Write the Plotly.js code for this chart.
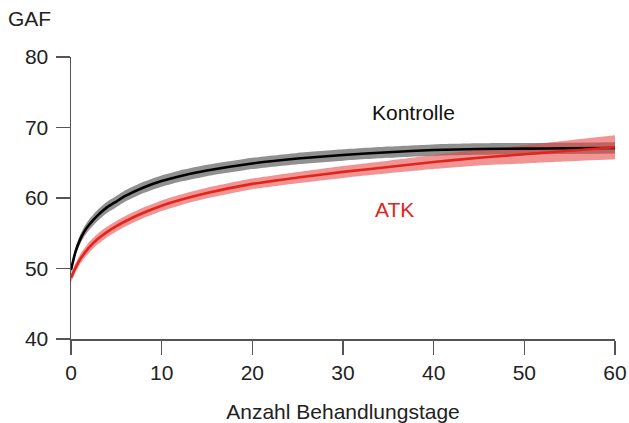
<!DOCTYPE html>
<html>
<head>
<meta charset="utf-8">
<script src="https://cdn.plot.ly/plotly-3.0.1.min.js"></script>
<style>html,body{margin:0;padding:0;background:#fff;}#chart{width:629px;height:423px;}</style>
</head>
<body>
<div id="chart"></div>
<script>
// Days of treatment
const days = [0, 0.5, 1, 1.5, 2, 3, 4, 5, 6, 8, 10, 12, 15, 20, 25, 30, 35, 40, 45, 50, 55, 60];
// Kontrolle (control) mean GAF and band half-width
const kontrolleMean = [49.8, 52.4, 54.1, 55.3, 56.2, 57.6, 58.7, 59.5, 60.3, 61.5, 62.4, 63.1, 63.9, 64.9, 65.6, 66.1, 66.5, 66.8, 66.95, 67.0, 67.05, 67.1];
const kontrolleBand = [0.45, 0.55, 0.65, 0.7, 0.75, 0.8, 0.8, 0.8, 0.8, 0.8, 0.8, 0.8, 0.8, 0.8, 0.8, 0.8, 0.8, 0.8, 0.8, 0.8, 0.8, 0.8];
// ATK mean GAF and band half-width
const atkMean = [48.7, 50.1, 51.3, 52.2, 53.0, 54.25, 55.2, 56.0, 56.7, 57.9, 58.9, 59.7, 60.7, 62.0, 62.9, 63.7, 64.4, 65.1, 65.7, 66.2, 66.7, 67.2];
const atkBand = [0.6, 0.65, 0.7, 0.7, 0.75, 0.75, 0.75, 0.75, 0.75, 0.75, 0.75, 0.75, 0.75, 0.75, 0.8, 0.85, 0.9, 1.0, 1.1, 1.3, 1.5, 1.7];
// Axis ticks
const xTicks = [0, 10, 20, 30, 40, 50, 60];
const yTicks = [40, 50, 60, 70, 80];

const up = (m, b) => m.map((v, i) => v + b[i]);
const lo = (m, b) => m.map((v, i) => v - b[i]);
const sm = 0.6;

const traces = [
  {x: days, y: lo(kontrolleMean, kontrolleBand), mode: 'lines', line: {width: 0, shape: 'spline', smoothing: sm}, hoverinfo: 'skip', showlegend: false},
  {x: days, y: up(kontrolleMean, kontrolleBand), mode: 'lines', fill: 'tonexty', fillcolor: 'rgba(70,70,70,0.6)', line: {width: 0, shape: 'spline', smoothing: sm}, hoverinfo: 'skip', showlegend: false},
  {x: days, y: lo(atkMean, atkBand), mode: 'lines', line: {width: 0, shape: 'spline', smoothing: sm}, hoverinfo: 'skip', showlegend: false},
  {x: days, y: up(atkMean, atkBand), mode: 'lines', fill: 'tonexty', fillcolor: 'rgba(228,60,60,0.55)', line: {width: 0, shape: 'spline', smoothing: sm}, hoverinfo: 'skip', showlegend: false},
  {x: days, y: kontrolleMean, mode: 'lines', line: {color: '#000000', width: 2.6, shape: 'spline', smoothing: sm}, showlegend: false},
  {x: days, y: atkMean, mode: 'lines', line: {color: '#e3241b', width: 2.6, shape: 'spline', smoothing: sm}, showlegend: false}
];

const fontFam = 'Liberation Sans, Arial, sans-serif';
const fs = 21;
const layout = {
  width: 629, height: 423,
  margin: {l: 71, r: 14, t: 57, b: 84},
  paper_bgcolor: '#ffffff', plot_bgcolor: '#ffffff',
  font: {family: fontFam, size: fs, color: '#222222'},
  showlegend: false,
  xaxis: {
    range: [0, 60], tickvals: xTicks, ticktext: xTicks.map(String),
    showgrid: false, zeroline: false, showline: true, linecolor: '#555555', linewidth: 1.5,
    ticks: 'outside', ticklen: 14, tickwidth: 1.5, tickcolor: '#555555',
    tickfont: {family: fontFam, size: fs, color: '#222222'},
    title: {text: 'Anzahl Behandlungstage', font: {family: fontFam, size: fs, color: '#222222'}, standoff: 24}
  },
  yaxis: {
    range: [40, 80], tickvals: yTicks, ticktext: yTicks.map(String),
    showgrid: false, zeroline: false, showline: true, linecolor: '#555555', linewidth: 1.5,
    ticks: 'outside', ticklen: 14, tickwidth: 1.5, tickcolor: '#555555', ticklabelstandoff: 3,
    tickfont: {family: fontFam, size: fs, color: '#222222'}
  },
  annotations: [
    {text: 'GAF', xref: 'paper', yref: 'paper', x: -0.12, y: 1.135, xanchor: 'left', yanchor: 'middle', showarrow: false, font: {family: fontFam, size: fs, color: '#222222'}},
    {text: 'Kontrolle', xref: 'x', yref: 'y', x: 37.8, y: 72.1, xanchor: 'center', yanchor: 'middle', showarrow: false, font: {family: fontFam, size: fs, color: '#111111'}},
    {text: 'ATK', xref: 'x', yref: 'y', x: 35.7, y: 58.3, xanchor: 'center', yanchor: 'middle', showarrow: false, font: {family: fontFam, size: fs, color: '#e3241b'}}
  ]
};

Plotly.newPlot('chart', traces, layout, {staticPlot: true, displayModeBar: false});
</script>
</body>
</html>
